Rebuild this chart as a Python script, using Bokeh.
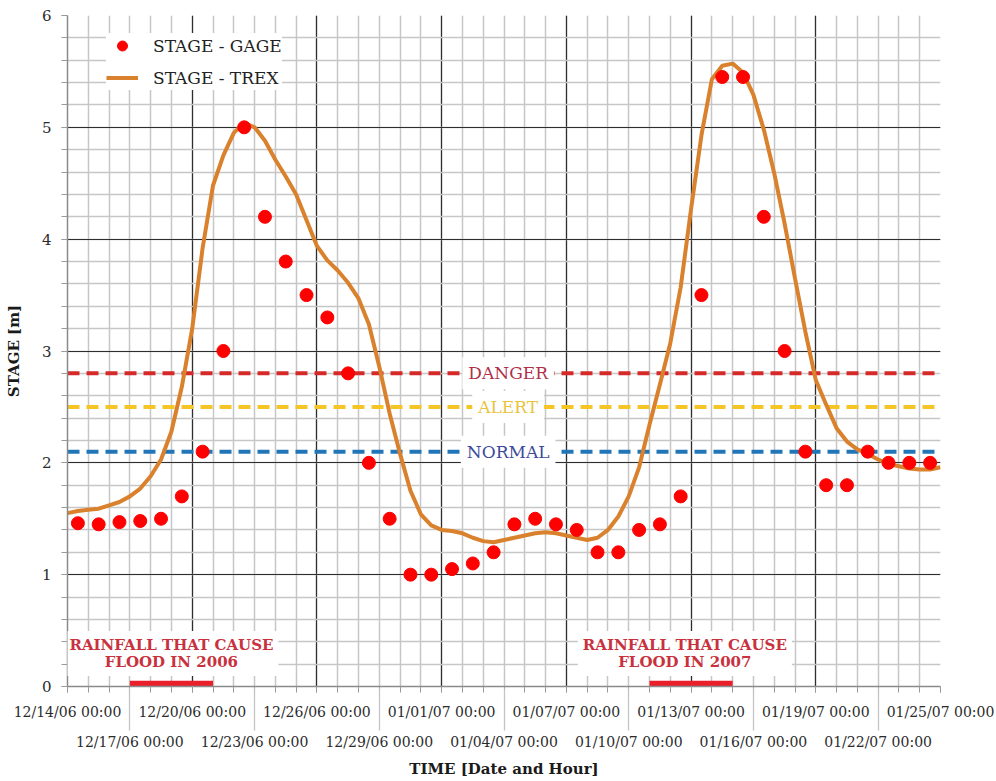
from bokeh.plotting import figure
from bokeh.models import (FixedTicker, LinearAxis, Label, Legend, LegendItem, Span,
                          ColumnDataSource, Range1d)
from bokeh.embed import file_html
from bokeh.resources import INLINE

# ---------------- data ----------------
# x positions are days since 12/14/06 00:00
TICK_DAYS_ROW1 = [0, 6, 12, 18, 24, 30, 36, 42]
TICK_LABELS_ROW1 = ["12/14/06 00:00", "12/20/06 00:00", "12/26/06 00:00", "01/01/07 00:00",
                    "01/07/07 00:00", "01/13/07 00:00", "01/19/07 00:00", "01/25/07 00:00"]
TICK_DAYS_ROW2 = [3, 9, 15, 21, 27, 33, 39]
TICK_LABELS_ROW2 = ["12/17/06 00:00", "12/23/06 00:00", "12/29/06 00:00", "01/04/07 00:00",
                    "01/10/07 00:00", "01/16/07 00:00", "01/22/07 00:00"]
Y_TICKS = [0, 1, 2, 3, 4, 5, 6]

GAGE_DAY = [0.5, 1.5, 2.5, 3.5, 4.5, 5.5, 6.5, 7.5, 8.5, 9.5, 10.5, 11.5, 12.5, 13.5,
            14.5, 15.5, 16.5, 17.5, 18.5, 19.5, 20.5, 21.5, 22.5, 23.5, 24.5, 25.5, 26.5, 27.5,
            28.5, 29.5, 30.5, 31.5, 32.5, 33.5, 34.5, 35.5, 36.5, 37.5, 38.5, 39.5, 40.5, 41.5]
GAGE_STAGE = [1.46, 1.45, 1.47, 1.48, 1.50, 1.70, 2.10, 3.00, 5.00, 4.20, 3.80, 3.50, 3.30, 2.80,
              2.00, 1.50, 1.00, 1.00, 1.05, 1.10, 1.20, 1.45, 1.50, 1.45, 1.40, 1.20, 1.20, 1.40,
              1.45, 1.70, 3.50, 5.45, 5.45, 4.20, 3.00, 2.10, 1.80, 1.80, 2.10, 2.00, 2.00, 2.00]

TREX_DAY = [0.0, 0.5, 1.0, 1.5, 2.0, 2.5, 3.0, 3.5, 4.0, 4.5, 5.0, 5.5, 6.0, 6.5, 7.0, 7.5,
            8.0, 8.5, 9.0, 9.5, 10.0, 10.5, 11.0, 11.5, 12.0, 12.5, 13.0, 13.5, 14.0, 14.5,
            15.0, 15.5, 16.0, 16.5, 17.0, 17.5, 18.0, 18.5, 19.0, 19.5, 20.0, 20.5, 21.0, 21.5,
            22.0, 22.5, 23.0, 23.5, 24.0, 24.5, 25.0, 25.5, 26.0, 26.5, 27.0, 27.5, 28.0, 28.5,
            29.0, 29.5, 30.0, 30.5, 31.0, 31.5, 32.0, 32.5, 33.0, 33.5, 34.0, 34.5, 35.0, 35.5,
            36.0, 36.5, 37.0, 37.5, 38.0, 38.5, 39.0, 39.5, 40.0, 40.5, 41.0, 41.5, 42.0]
TREX_STAGE = [1.55, 1.57, 1.58, 1.59, 1.62, 1.65, 1.70, 1.77, 1.88, 2.03, 2.28, 2.68, 3.20, 3.92,
              4.48, 4.75, 4.95, 5.04, 5.00, 4.88, 4.71, 4.56, 4.40, 4.17, 3.94, 3.81, 3.72, 3.61,
              3.47, 3.24, 2.86, 2.44, 2.08, 1.75, 1.54, 1.44, 1.40, 1.39, 1.37, 1.33, 1.30, 1.29,
              1.31, 1.33, 1.35, 1.37, 1.38, 1.37, 1.35, 1.33, 1.31, 1.33, 1.40, 1.52, 1.70, 1.96,
              2.34, 2.70, 3.07, 3.57, 4.27, 4.93, 5.43, 5.55, 5.57, 5.49, 5.29, 4.98, 4.59, 4.14,
              3.65, 3.17, 2.74, 2.52, 2.31, 2.19, 2.12, 2.08, 2.03, 1.99, 1.97, 1.95, 1.94, 1.94,
              1.96]

LEVEL_NAMES = ["DANGER", "ALERT", "NORMAL"]
LEVEL_VALUES = [2.8, 2.5, 2.1]

RAIN_START = [3, 28]
RAIN_END = [7, 32]
RAIN_TEXT = ["RAINFALL THAT CAUSE\nFLOOD IN 2006", "RAINFALL THAT CAUSE\nFLOOD IN 2007"]

# ---------------- style ----------------
FONT = "DejaVu Serif"
LEVEL_LINE_COLORS = ["#D62A2A", "#F5C526", "#2176B8"]
LEVEL_TEXT_COLORS = ["#B0304A", "#E9C43F", "#3D4A9C"]
TREX_COLOR = "#D9812C"
GAGE_COLOR = "#FF0000"
RAIN_TEXT_COLOR = "#C8323E"
RAIN_BAR_COLOR = "#EA1F2A"

p = figure(width=996, height=781, output_backend="svg", toolbar_location=None,
           x_range=Range1d(0, 42), y_range=Range1d(0, 6),
           min_border_left=67, min_border_right=56, min_border_top=15, min_border_bottom=95,
           background_fill_color="white", border_fill_color="white")
p.outline_line_color = None

# ---- x axis row 1 ----
xa = p.xaxis[0]
xa.ticker = FixedTicker(ticks=TICK_DAYS_ROW1, minor_ticks=list(range(0, 43)))
xa.major_label_overrides = {d: t for d, t in zip(TICK_DAYS_ROW1, TICK_LABELS_ROW1)}
xa.major_label_text_font = FONT
xa.major_label_text_font_size = "14px"
xa.major_label_text_color = "#2b2b2b"
xa.major_label_standoff = 11
xa.major_tick_in = 0
xa.major_tick_out = 6
xa.minor_tick_in = 0
xa.minor_tick_out = 6
xa.major_tick_line_color = "#9a9a9a"
xa.minor_tick_line_color = "#9a9a9a"
xa.axis_line_color = "#8a8a8a"
xa.axis_line_width = 1.5

# ---- x axis row 2 ----
xa2 = LinearAxis(ticker=FixedTicker(ticks=TICK_DAYS_ROW2, minor_ticks=[]))
xa2.major_label_overrides = {d: t for d, t in zip(TICK_DAYS_ROW2, TICK_LABELS_ROW2)}
xa2.major_label_text_font = FONT
xa2.major_label_text_font_size = "14px"
xa2.major_label_text_color = "#2b2b2b"
xa2.major_label_standoff = 3
xa2.major_tick_in = 34
xa2.major_tick_out = 8
xa2.major_tick_line_color = "#c4c4c4"
xa2.major_tick_line_width = 1.3
xa2.minor_tick_line_color = None
xa2.axis_line_color = None
xa2.axis_label = "TIME [Date and Hour]"
xa2.axis_label_text_font = FONT
xa2.axis_label_text_font_style = "bold"
xa2.axis_label_text_font_size = "15px"
xa2.axis_label_text_color = "#1a1a1a"
xa2.axis_label_standoff = 7
p.add_layout(xa2, "below")

# ---- y axis ----
ya = p.yaxis[0]
ya.ticker = FixedTicker(ticks=Y_TICKS, minor_ticks=[i / 5 for i in range(31)])
ya.major_label_text_font = FONT
ya.major_label_text_font_size = "15px"
ya.major_label_text_color = "#2b2b2b"
ya.major_label_standoff = 10
ya.major_tick_in = 0
ya.major_tick_out = 6
ya.minor_tick_in = 0
ya.minor_tick_out = 6
ya.major_tick_line_color = "#9a9a9a"
ya.minor_tick_line_color = "#9a9a9a"
ya.axis_line_color = "#8a8a8a"
ya.axis_line_width = 1.5
ya.axis_label = "STAGE [m]"
ya.axis_label_text_font = FONT
ya.axis_label_text_font_style = "bold"
ya.axis_label_text_font_size = "15px"
ya.axis_label_text_color = "#1a1a1a"
ya.axis_label_standoff = 16

# ---- grids ----
for g in (p.xgrid[0], p.ygrid[0]):
    g.grid_line_color = "#2e2e2e"
    g.grid_line_width = 1.2
    g.minor_grid_line_color = "#c6c6c6"
    g.minor_grid_line_width = 1.5

# ---- level lines ----
for v, c in zip(LEVEL_VALUES, LEVEL_LINE_COLORS):
    p.add_layout(Span(location=v, dimension="width", line_color=c, line_width=4,
                      line_dash="12 7", level="underlay"))

# ---- rainfall bars ----
rain_src = ColumnDataSource(dict(x0=RAIN_START, x1=RAIN_END))
p.segment(x0="x0", x1="x1", y0=0.025, y1=0.025, source=rain_src,
          line_color=RAIN_BAR_COLOR, line_width=6)

# ---- series ----
trex = p.line(TREX_DAY, TREX_STAGE, line_color=TREX_COLOR, line_width=4)
gage = p.scatter(GAGE_DAY, GAGE_STAGE, size=13, fill_color=GAGE_COLOR,
                 line_color=GAGE_COLOR, marker="circle")

# ---- level labels ----
for name, v, c in zip(LEVEL_NAMES, LEVEL_VALUES, LEVEL_TEXT_COLORS):
    p.add_layout(Label(x=21.2, y=v, text=name, text_align="center", text_baseline="middle",
                       text_font=FONT, text_font_size="17px", text_color=c,
                       background_fill_color="white", padding=6))

# ---- rainfall labels ----
for s, e, t in zip(RAIN_START, RAIN_END, RAIN_TEXT):
    p.add_layout(Label(x=(s + e) / 2 - (0.0 if s < 10 else 0.3), y=0.295, text=t,
                       text_align="center", text_baseline="middle",
                       text_font=FONT, text_font_size="15px", text_font_style="bold",
                       text_color=RAIN_TEXT_COLOR, text_line_height=0.95,
                       background_fill_color="white", padding=5))

# ---- legend ----
legend = Legend(items=[LegendItem(label="STAGE - GAGE", renderers=[gage]),
                       LegendItem(label="STAGE - TREX", renderers=[trex])],
                location=(39, 596), border_line_color=None,
                background_fill_color="white", background_fill_alpha=1.0,
                padding=8, spacing=7, glyph_width=32, glyph_height=25,
                label_height=25, label_standoff=15,
                label_text_font=FONT, label_text_font_size="17px",
                label_text_color="#222222")
p.add_layout(legend)

open("out.html", "w").write(file_html(p, INLINE))
